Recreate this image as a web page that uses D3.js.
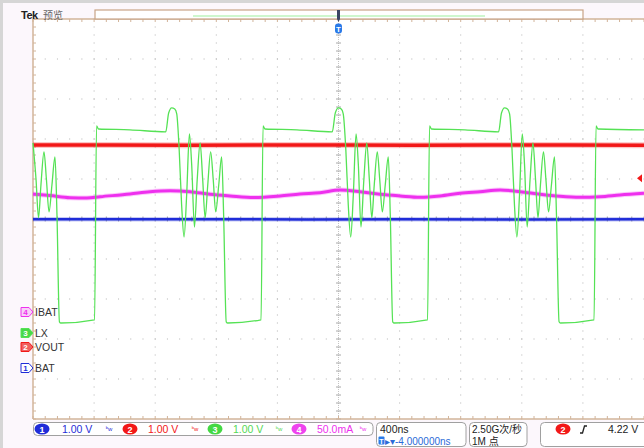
<!DOCTYPE html>
<html>
<head>
<meta charset="utf-8"/>
<title>Tek LX</title>
<style>
  body { margin:0; padding:0; background:#dcdcdc; }
  svg { display:block; }
  text { font-family: "Liberation Sans", Arial, "Noto Sans CJK SC", sans-serif; }
</style>
<script src="https://cdn.jsdelivr.net/npm/d3@7/dist/d3.min.js"></script>
</head>
<body>
<script>
var w = 644, h = 448;

// scope settings: 400 ns/div, 10 horizontal divisions, 10 vertical divisions
var timeDomain = [-2000, 2000];           // ns
var chNames   = ["BAT", "VOUT", "LX", "IBAT"];
var chNums    = ["1", "2", "3", "4"];
var chColors  = ["#1f2cd8", "#f21818", "#55e255", "#ee30ee"];
var chScales  = [1, 1, 1, 50];            // V/div, mA/div for ch4
var chOffsets = [-3.725, -3.2, -2.85, -2.325]; // ground position, divisions from centre
var chReadout = ["1.00 V", "1.00 V", "1.00 V", "50.0mA"];

// ch1 BAT (V)
var batPoints = [[-2000, 3.72], [-1100, 3.72], [-200, 3.715], [400, 3.72], [1200, 3.715], [2000, 3.72]];
// ch2 VOUT (V)
var voutPoints = [[-2000, 5.05], [-1500, 5.05], [-1000, 5.045], [-500, 5.05], [0, 5.05], [500, 5.045], [1000, 5.05], [1500, 5.05], [2000, 5.045]];
// ch4 IBAT (mA)
var ibatPoints = [[-2000, 147.5], [-1889, 145.6], [-1758, 142.9], [-1647, 142.5], [-1561, 144.1], [-1365, 147.5],
  [-1234, 150.4], [-1103, 151.6], [-972, 150.4], [-841, 147.1], [-710, 145], [-553, 143.1], [-383, 145],
  [-252, 147.5], [-121, 149.1], [10, 152.5], [141, 150.4], [272, 147.1], [403, 145], [534, 143.4],
  [665, 145], [796, 148.4], [927, 150.4], [1058, 152.5], [1188, 150.4], [1319, 147.1], [1450, 144.6],
  [1581, 143.4], [1712, 144.1], [1843, 146.3], [2000, 148.4]];
// ch3 LX (V)
var lxPoints = [
  [-2000, 4.75], [-1980, 3.83], [-1964, 2.88], [-1948, 3.7], [-1928, 4.53], [-1912, 3.83], [-1895, 3.03],
  [-1876, 3.7], [-1856, 4.4], [-1843, 2.95], [-1827, 0.28], [-1817, 0.25], [-1597, 0.33], [-1584, 5.18],
  [-1571, 5.1], [-1365, 5.08], [-1131, 5.03],
  [-1112, 5.5], [-1092, 5.63], [-1072, 5.6], [-1059, 5.48], [-1043, 4.58], [-1027, 3.2], [-1011, 2.4],
  [-994, 3.45], [-976, 4.98], [-961, 4.2], [-943, 2.65], [-925, 3.83], [-906, 4.75], [-889, 3.83],
  [-873, 2.88], [-856, 3.7], [-837, 4.53], [-820, 3.83], [-804, 3.03], [-784, 3.7], [-765, 4.4],
  [-752, 2.95], [-735, 0.28], [-725, 0.25], [-507, 0.33], [-494, 5.18], [-481, 5.1], [-272, 5.08], [-41, 5.03],
  [-21, 5.5], [-1, 5.63], [18, 5.6], [31, 5.48], [48, 4.58], [64, 3.2], [80, 2.4], [97, 3.45], [115, 4.98],
  [130, 4.2], [147, 2.65], [166, 3.83], [185, 4.75], [202, 3.83], [218, 2.88], [234, 3.7], [254, 4.53],
  [270, 3.83], [287, 3.03], [306, 3.7], [326, 4.4], [339, 2.95], [355, 0.28], [365, 0.25], [583, 0.33],
  [596, 5.18], [609, 5.1], [828, 5.08], [1048, 5.03],
  [1067, 5.5], [1087, 5.63], [1106, 5.6], [1120, 5.48], [1136, 4.58], [1152, 3.2], [1168, 2.4], [1185, 3.45],
  [1203, 4.98], [1218, 4.2], [1235, 2.65], [1254, 3.83], [1273, 4.75], [1290, 3.83], [1306, 2.88],
  [1322, 3.7], [1342, 4.53], [1358, 3.83], [1375, 3.03], [1394, 3.7], [1414, 4.4], [1427, 2.95],
  [1444, 0.28], [1453, 0.25], [1673, 0.33], [1686, 5.18], [1699, 5.1], [2000, 5.08]];

var triggerLevel = 4.22; // V on ch2

var plotL = 33, plotR = 644, plotT = 19, plotB = 419;

var svg = d3.select("body").append("svg").attr("width", w).attr("height", h);

// frame
svg.append("rect").attr("x", 0).attr("y", 0).attr("width", w).attr("height", h).style("fill", "#fcf7fc");
svg.append("rect").attr("x", 0).attr("y", 0).attr("width", w).attr("height", 3).style("fill", "#d6d6d6");
svg.append("rect").attr("x", 0).attr("y", 0).attr("width", 3).attr("height", h).style("fill", "#d6d6d6");
svg.append("rect").attr("x", plotL).attr("y", plotT).attr("width", plotR - plotL).attr("height", plotB - plotT).style("fill", "white");

var x = d3.scaleLinear().domain(timeDomain).range([plotL, plotR]);
var xDiv = d3.scaleLinear().domain([0, 10]).range([plotL, plotR]);
var yDiv = d3.scaleLinear().domain([-5, 5]).range([plotB, plotT]);

// graticule
var grid = svg.append("g");
var dotsV = [], dotsH = [];
d3.range(1, 10).forEach(function(i) {
  if (i == 5) return;
  d3.range(0, 51).forEach(function(k) { dotsV.push([xDiv(i), yDiv(-5 + k / 5)]); });
  d3.range(0, 51).forEach(function(k) { dotsH.push([xDiv(k / 5), yDiv(i - 5)]); });
});
grid.selectAll(".dot").data(dotsV.concat(dotsH)).enter().append("rect")
  .attr("x", function(d) { return d[0] - 0.5; })
  .attr("y", function(d) { return d[1] - 0.5; })
  .attr("width", 1).attr("height", 1)
  .style("fill", "#b4b4b4");

// centre cross
grid.append("line").attr("x1", xDiv(5)).attr("x2", xDiv(5)).attr("y1", plotT).attr("y2", plotB)
  .style("stroke", "#c4c4c4").style("stroke-dasharray", "1,1");
grid.append("line").attr("x1", plotL).attr("x2", plotR).attr("y1", yDiv(0)).attr("y2", yDiv(0))
  .style("stroke", "#c4c4c4").style("stroke-dasharray", "1,1");
grid.selectAll(".vtick").data(d3.range(0, 51)).enter().append("line")
  .attr("x1", xDiv(5) - 2.5).attr("x2", xDiv(5) + 2.5)
  .attr("y1", function(k) { return yDiv(-5 + k / 5); }).attr("y2", function(k) { return yDiv(-5 + k / 5); })
  .style("stroke", "#a8a8a8");
grid.selectAll(".htick").data(d3.range(0, 51)).enter().append("line")
  .attr("y1", yDiv(0) - 2.5).attr("y2", yDiv(0) + 2.5)
  .attr("x1", function(k) { return xDiv(k / 5); }).attr("x2", function(k) { return xDiv(k / 5); })
  .style("stroke", "#a8a8a8");

// border ticks
var borderColor = "#d2b49a";
grid.selectAll(".ltick").data(d3.range(0, 51)).enter().append("line")
  .attr("x1", plotL).attr("x2", plotL + 3)
  .attr("y1", function(k) { return yDiv(-5 + k / 5); }).attr("y2", function(k) { return yDiv(-5 + k / 5); })
  .style("stroke", borderColor);
grid.selectAll(".ttick").data(d3.range(0, 51)).enter().append("line")
  .attr("y1", plotT).attr("y2", plotT + 3)
  .attr("x1", function(k) { return xDiv(k / 5); }).attr("x2", function(k) { return xDiv(k / 5); })
  .style("stroke", borderColor);
grid.selectAll(".btick").data(d3.range(0, 51)).enter().append("line")
  .attr("y1", plotB).attr("y2", plotB - 3)
  .attr("x1", function(k) { return xDiv(k / 5); }).attr("x2", function(k) { return xDiv(k / 5); })
  .style("stroke", borderColor);
grid.append("line").attr("x1", plotL).attr("x2", plotL).attr("y1", plotT).attr("y2", plotB).style("stroke", borderColor).style("stroke-width", 1.5);
grid.append("line").attr("x1", plotL).attr("x2", plotR).attr("y1", plotT).attr("y2", plotT).style("stroke", borderColor).style("stroke-width", 1.5);
grid.append("line").attr("x1", plotL).attr("x2", plotR).attr("y1", plotB).attr("y2", plotB).style("stroke", borderColor).style("stroke-width", 1.5);

// header
svg.append("text").attr("x", 21).attr("y", 19).style("font-size", "11px").style("font-weight", "bold")
  .style("fill", "#222").style("letter-spacing", "-0.5px").text("Tek");
svg.append("text").attr("x", 43).attr("y", 19).style("font-size", "10px").style("fill", "#666").text("预览");
svg.append("rect").attr("x", 95).attr("y", 10).attr("width", 488).attr("height", 9)
  .style("fill", "white").style("stroke", "#c9a487").style("stroke-width", 1.2);
svg.append("line").attr("x1", 193).attr("x2", 485).attr("y1", 16).attr("y2", 16)
  .style("stroke", "#9ef09e").style("stroke-width", 1.2);
svg.append("path").attr("d", "M" + (xDiv(5) - 1.5) + ",10 h3 v9 l-1.5,3 l-1.5,-3 z").style("fill", "#3b4663");
svg.append("rect").attr("x", xDiv(5) - 3.5).attr("y", 23.5).attr("width", 7).attr("height", 10).attr("rx", 3)
  .style("fill", "#2a7ae8");
svg.append("text").attr("x", xDiv(5)).attr("y", 32).attr("text-anchor", "middle")
  .style("font-size", "8px").style("font-weight", "bold").style("fill", "white").text("T");

// traces
function chY(ch) {
  return function(v) { return yDiv(chOffsets[ch] + v / chScales[ch]); };
}
function drawTrace(points, ch, width, curve, halo) {
  var yf = chY(ch);
  var line = d3.line().x(function(d) { return x(d[0]); }).y(function(d) { return yf(d[1]); }).curve(curve);
  if (halo) {
    // faint band for the acquisition noise around the trace
    svg.append("path").datum(points).attr("d", line)
      .style("fill", "none").style("stroke", chColors[ch]).style("stroke-width", width + halo)
      .style("stroke-opacity", 0.25).style("stroke-linejoin", "round");
  }
  svg.append("path").datum(points).attr("d", line)
    .style("fill", "none").style("stroke", chColors[ch]).style("stroke-width", width)
    .style("stroke-linejoin", "round");
}
drawTrace(ibatPoints, 3, 3, d3.curveMonotoneX, 2);
drawTrace(voutPoints, 1, 3.5, d3.curveLinear, 2.5);
drawTrace(batPoints, 0, 2.5, d3.curveLinear, 2);
drawTrace(lxPoints, 2, 1.3, d3.curveMonotoneX, 0);

// trigger level marker
var ty = chY(1)(triggerLevel);
svg.append("path").attr("d", "M637," + ty + " l5,-4 v8 z").style("fill", "#f21818");

// channel ground markers
var filled = [false, true, true, false];
var markerFill = ["white", "#f06060", "#48d848", "#f7d0f7"];
chNames.forEach(function(name, i) {
  var gy = chY(i)(0);
  svg.append("path").attr("d", "M21," + (gy - 4.5) + " h8 l4,4.5 l-4,4.5 h-8 z")
    .style("fill", markerFill[i]).style("stroke", chColors[i]).style("stroke-width", 1);
  svg.append("text").attr("x", 25.5).attr("y", gy + 3).attr("text-anchor", "middle")
    .style("font-size", "8px").style("font-weight", "bold")
    .style("fill", filled[i] ? "white" : chColors[i]).text(chNums[i]);
  svg.append("text").attr("x", 35).attr("y", gy + 4).style("font-size", "10.5px").style("fill", "#333").text(name);
});

// status bar
var bar = svg.append("g");
function box(x0, x1, y0, y1) {
  bar.append("rect").attr("x", x0).attr("y", y0).attr("width", x1 - x0).attr("height", y1 - y0).attr("rx", 4)
    .style("fill", "white").style("stroke", "#a0a0a0").style("stroke-width", 1);
}
box(33.5, 373, 422.5, 435.5);
box(376.5, 466, 422.5, 446.5);
box(469.5, 527, 422.5, 446.5);
box(540.5, 660, 422.5, 446.5);

var badgeX = [42, 130, 215, 299], readX = [62, 148, 233, 317], bwX = [109, 195, 279, 363];
chNames.forEach(function(name, i) {
  bar.append("ellipse").attr("cx", badgeX[i]).attr("cy", 429).attr("rx", 7.5).attr("ry", 5.5)
    .style("fill", i == 3 ? "#ee44ee" : (i == 2 ? "#44d844" : chColors[i]));
  bar.append("text").attr("x", badgeX[i]).attr("y", 432.5).attr("text-anchor", "middle")
    .style("font-size", "9px").style("font-weight", "bold").style("fill", "white").text(chNums[i]);
  bar.append("text").attr("x", readX[i]).attr("y", 432.5).style("font-size", "10.5px")
    .style("fill", i == 2 ? "#55d855" : chColors[i]).text(chReadout[i]);
  bar.append("text").attr("x", bwX[i]).attr("y", 431).attr("text-anchor", "middle")
    .style("font-size", "6px").style("fill", i == 2 ? "#55d855" : chColors[i]).text("ᵇw");
});

bar.append("text").attr("x", 380).attr("y", 432.5).style("font-size", "10.5px").style("fill", "#222").text("400ns");
bar.append("rect").attr("x", 378.5).attr("y", 436.5).attr("width", 6).attr("height", 8).attr("rx", 1).style("fill", "#2a7ae8");
bar.append("text").attr("x", 381.5).attr("y", 443.5).attr("text-anchor", "middle")
  .style("font-size", "7px").style("font-weight", "bold").style("fill", "white").text("T");
bar.append("text").attr("x", 385).attr("y", 444.5).style("font-size", "10px").style("fill", "#2a6ad8").text("▸▾-4.000000ns");

bar.append("text").attr("x", 472).attr("y", 432.5).style("font-size", "10px").style("fill", "#222").text("2.50G次/秒");
bar.append("text").attr("x", 472).attr("y", 444.5).style("font-size", "10px").style("fill", "#222").text("1M 点");

bar.append("ellipse").attr("cx", 563).attr("cy", 429).attr("rx", 7.5).attr("ry", 5.5).style("fill", chColors[1]);
bar.append("text").attr("x", 563).attr("y", 432.5).attr("text-anchor", "middle")
  .style("font-size", "9px").style("font-weight", "bold").style("fill", "white").text("2");
bar.append("path").attr("d", "M580,433 h2.5 l2,-7 h2.5").style("fill", "none").style("stroke", "#222").style("stroke-width", 1.3);
bar.append("text").attr("x", 608).attr("y", 432.5).style("font-size", "10.5px").style("fill", "#222").text(triggerLevel.toFixed(2) + " V");
</script>
</body>
</html>
